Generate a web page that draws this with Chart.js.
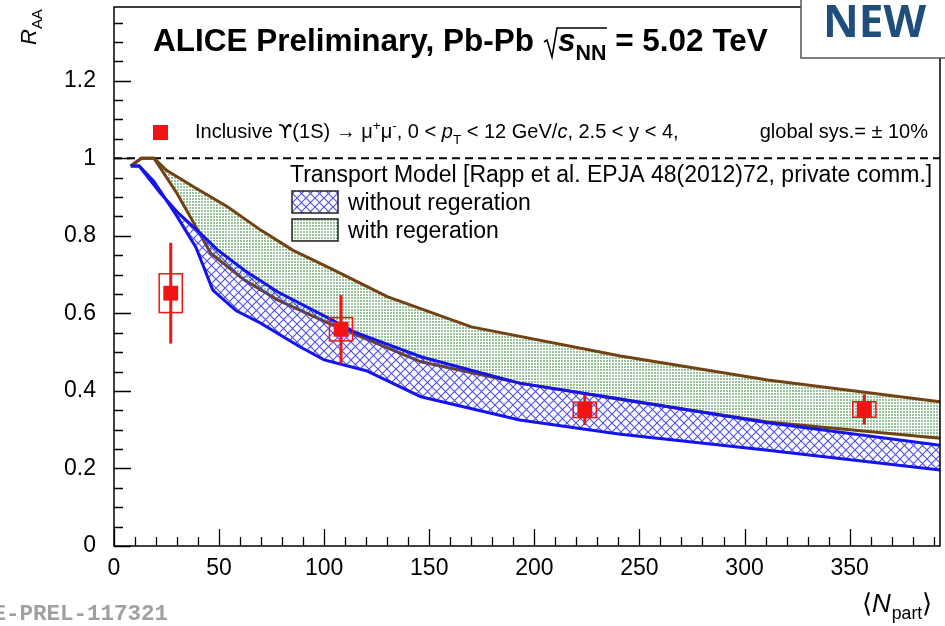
<!DOCTYPE html>
<html>
<head>
<meta charset="utf-8">
<script src="https://cdn.jsdelivr.net/npm/chart.js@4.4.1/dist/chart.umd.min.js"></script>
<style>
  html, body { margin: 0; padding: 0; background: #fff; }
  canvas { display: block; }
</style>
</head>
<body>
<canvas id="raaChart" width="945" height="626"></canvas>
<script>
// ALICE Upsilon(1S) points
const nPart = [27, 108, 224, 357];
const raa = [0.652, 0.559, 0.351, 0.352];
const statErr = [0.13, 0.088, 0.039, 0.039];
const sysErr = [0.05, 0.03, 0.02, 0.02];
const sysHalfWidth = 5.5;

// transport model, without regeneration (band edges)
const noRegUpperX = [8, 12, 22, 30, 41, 49, 62, 78, 103, 114, 146, 193, 241, 311, 393];
const noRegUpperY = [0.98, 0.98, 0.91, 0.862, 0.807, 0.765, 0.711, 0.655, 0.585, 0.553, 0.488, 0.42, 0.379, 0.318, 0.26];
const noRegLowerX = [8, 12, 19, 30, 39, 47, 58, 70, 88, 100, 120, 146, 193, 241, 311, 393];
const noRegLowerY = [0.98, 0.98, 0.94, 0.85, 0.77, 0.66, 0.607, 0.574, 0.515, 0.48, 0.452, 0.385, 0.325, 0.288, 0.247, 0.196];

// transport model, with regeneration
const regUpperX = [8, 13, 19, 25, 38, 54, 70, 85, 103, 130, 170, 241, 311, 393];
const regUpperY = [0.98, 1.0, 1.0, 0.969, 0.926, 0.875, 0.814, 0.763, 0.716, 0.643, 0.565, 0.49, 0.428, 0.372];
const regLowerX = [8, 13, 19, 30, 39, 46, 62, 78, 103, 146, 193, 241, 311, 393];
const regLowerY = [0.98, 1.0, 1.0, 0.909, 0.823, 0.755, 0.686, 0.634, 0.572, 0.475, 0.42, 0.378, 0.32, 0.278];

// axes
const xMin = 0, xMax = 393, xMajor = 50, xMinor = 10;
const yMin = 0, yMax = 1.39, yMajor = 0.2, yMinor = 0.05;

const BLUE = 'rgb(20,20,235)';
const BROWN = 'rgb(112,66,20)';
const RED = 'rgb(240,20,20)';
const FONT = '"Liberation Sans", Arial, Helvetica, sans-serif';

function toPoints(xs, ys) {
    return xs.map((x, i) => ({ x: x, y: ys[i] }));
}

// blue cross-hatch used for the "without regeneration" band
function makeHatch() {
    const c = document.createElement('canvas');
    c.width = 9; c.height = 9;
    const g = c.getContext('2d');
    g.strokeStyle = 'rgba(60,60,230,0.9)';
    g.lineWidth = 1.1;
    g.beginPath();
    g.moveTo(0, 0); g.lineTo(9, 9);
    g.moveTo(9, 0); g.lineTo(0, 9);
    g.stroke();
    return g.createPattern(c, 'repeat');
}

// green dotted fill used for the "with regeneration" band
function makeDots() {
    const c = document.createElement('canvas');
    c.width = 3; c.height = 3;
    const g = c.getContext('2d');
    g.fillStyle = 'rgba(90,160,90,0.62)';
    g.fillRect(0, 0, 2, 2);
    return g.createPattern(c, 'repeat');
}

const hatch = makeHatch();
const dots = makeDots();

// draws a run of text pieces (italic / sub / sup) starting at x, returns end x
function drawRuns(ctx, x, y, runs, size, weight) {
    weight = weight || 'normal';
    runs.forEach(r => {
        let s = size, dy = 0;
        if (r.sub) { s = size * 0.68; dy = size * 0.28; }
        if (r.sup) { s = size * 0.68; dy = -size * 0.38; }
        ctx.font = (r.i ? 'italic ' : '') + weight + ' ' + s + 'px ' + (r.family || FONT);
        ctx.fillText(r.t, x, y + dy);
        x += ctx.measureText(r.t).width + (r.gap || 0);
    });
    return x;
}

const decorations = {
    id: 'decorations',
    beforeDatasetsDraw(chart) {
        const { ctx, chartArea, scales } = chart;
        const y1 = scales.y.getPixelForValue(1);
        ctx.save();
        ctx.strokeStyle = '#000';
        ctx.lineWidth = 2;
        ctx.setLineDash([8, 5]);
        ctx.beginPath();
        ctx.moveTo(chartArea.left, y1);
        ctx.lineTo(chartArea.right, y1);
        ctx.stroke();
        ctx.restore();
    },
    afterDatasetsDraw(chart) {
        const { ctx, scales } = chart;
        const sx = scales.x, sy = scales.y;
        ctx.save();
        ctx.strokeStyle = RED;
        nPart.forEach((n, i) => {
            const px = sx.getPixelForValue(n);
            // statistical error bar
            ctx.lineWidth = 3;
            ctx.beginPath();
            ctx.moveTo(px, sy.getPixelForValue(raa[i] - statErr[i]));
            ctx.lineTo(px, sy.getPixelForValue(raa[i] + statErr[i]));
            ctx.stroke();
            // systematic box
            ctx.lineWidth = 1.5;
            const l = sx.getPixelForValue(n - sysHalfWidth);
            const r = sx.getPixelForValue(n + sysHalfWidth);
            const t = sy.getPixelForValue(raa[i] + sysErr[i]);
            const b = sy.getPixelForValue(raa[i] - sysErr[i]);
            ctx.strokeRect(l, t, r - l, b - t);
        });
        ctx.restore();
    },
    afterDraw(chart) {
        const { ctx, chartArea, scales } = chart;
        const sx = scales.x, sy = scales.y;
        const { left, right, top, bottom } = chartArea;
        ctx.save();

        // frame
        ctx.strokeStyle = '#000';
        ctx.lineWidth = 1.5;
        ctx.strokeRect(left, top, right - left, bottom - top);

        // inward ticks
        ctx.lineWidth = 1.3;
        ctx.beginPath();
        for (let v = yMin; v <= yMax + 1e-9; v += yMinor) {
            const major = Math.abs(v / yMajor - Math.round(v / yMajor)) < 1e-6;
            const py = Math.round(sy.getPixelForValue(v)) + 0.5;
            ctx.moveTo(left, py);
            ctx.lineTo(left + (major ? 17 : 9), py);
        }
        for (let v = xMin; v <= xMax; v += xMinor) {
            const major = v % xMajor === 0;
            const px = Math.round(sx.getPixelForValue(v)) + 0.5;
            ctx.moveTo(px, bottom);
            ctx.lineTo(px, bottom - (major ? 17 : 9));
        }
        ctx.stroke();

        ctx.fillStyle = '#000';
        ctx.textBaseline = 'alphabetic';
        ctx.textAlign = 'left';

        // title
        let x = drawRuns(ctx, 153, 51, [{ t: 'ALICE Preliminary, Pb-Pb' }], 31.5, 'bold');
        x += 10;
        ctx.lineWidth = 1.6;
        ctx.beginPath();
        ctx.moveTo(x, 42);
        ctx.lineTo(x + 3, 40);
        ctx.lineTo(x + 8, 57);
        ctx.lineTo(x + 13, 28);
        ctx.lineTo(x + 63, 28);
        ctx.stroke();
        drawRuns(ctx, x + 14, 51, [
            { t: 's', i: true }, { t: 'NN', sub: true }, { t: ' = 5.02 TeV' }
        ], 31.5, 'bold');

        // data legend line
        ctx.fillStyle = RED;
        ctx.fillRect(153, 125, 15, 15);
        ctx.fillStyle = '#000';
        drawRuns(ctx, 195, 138, [
            { t: 'Inclusive ' }, { t: '\u03D2', family: '"DejaVu Sans", sans-serif' }, { t: '(1S) \u2192 \u03BC' },
            { t: '+', sup: true }, { t: '\u03BC' }, { t: '-', sup: true },
            { t: ', 0 < ' }, { t: 'p', i: true }, { t: 'T', sub: true }, { t: ' < 12 GeV/' }, { t: 'c', i: true },
            { t: ', 2.5 < y < 4,' }
        ], 20);
        ctx.font = '20px ' + FONT;
        ctx.textAlign = 'right';
        ctx.fillText('global sys.= \u00B1 10%', 928, 138);
        ctx.textAlign = 'left';

        // model legend
        ctx.font = '23px ' + FONT;
        ctx.fillText('Transport Model [Rapp et al. EPJA 48(2012)72, private comm.]', 290, 182);
        [[hatch, 'without regeration', 191], [dots, 'with regeration', 219]].forEach(([pat, label, y]) => {
            ctx.fillStyle = '#fff';
            ctx.fillRect(292, y, 46, 22);
            ctx.fillStyle = pat;
            ctx.fillRect(292, y, 46, 22);
            ctx.strokeStyle = '#222';
            ctx.lineWidth = 1.5;
            ctx.strokeRect(292, y, 46, 22);
            ctx.fillStyle = '#000';
            ctx.font = '23px ' + FONT;
            ctx.fillText(label, 348, y + 19);
        });

        // y axis title
        ctx.save();
        ctx.translate(36, 45);
        ctx.rotate(-Math.PI / 2);
        drawRuns(ctx, 0, 0, [{ t: 'R', i: true }, { t: 'AA', sub: true }], 22);
        ctx.restore();

        // x axis title
        let xt = drawRuns(ctx, 862, 612, [{ t: '\u27E8' }, { t: 'N', i: true }], 26);
        xt = drawRuns(ctx, xt + 1, 612, [{ t: 'part', sub: true }], 26);
        drawRuns(ctx, xt, 612, [{ t: '\u27E9' }], 26);

        // preliminary figure id
        ctx.fillStyle = '#a0a0a0';
        ctx.font = 'bold 22.5px "Liberation Mono", "DejaVu Sans Mono", monospace';
        ctx.textAlign = 'right';
        ctx.fillText('ALICE-PREL-117321', 168, 620);

        // NEW badge
        ctx.textAlign = 'left';
        ctx.fillStyle = '#fff';
        ctx.fillRect(801, 0, 144, 58);
        ctx.strokeStyle = '#555';
        ctx.lineWidth = 1.5;
        ctx.beginPath();
        ctx.moveTo(801, 0);
        ctx.lineTo(801, 58);
        ctx.lineTo(945, 58);
        ctx.stroke();
        ctx.fillStyle = 'rgb(31,78,125)';
        ctx.font = 'bold 44px "Open Sans", Lato, sans-serif';
        ctx.fillText('NEW', 823, 37);

        ctx.restore();
    }
};

new Chart(document.getElementById('raaChart'), {
    type: 'line',
    data: {
        datasets: [
            {
                label: 'ALICE',
                data: toPoints(nPart, raa),
                showLine: false,
                pointStyle: 'rect',
                pointRadius: 10.5,
                pointBackgroundColor: RED,
                pointBorderWidth: 0
            },
            {
                label: 'no regeneration upper',
                data: toPoints(noRegUpperX, noRegUpperY),
                borderColor: BLUE,
                borderWidth: 3,
                pointRadius: 0,
                fill: false
            },
            {
                label: 'no regeneration lower',
                data: toPoints(noRegLowerX, noRegLowerY),
                borderColor: BLUE,
                borderWidth: 3,
                pointRadius: 0,
                backgroundColor: hatch,
                fill: '-1'
            },
            {
                label: 'regeneration upper',
                data: toPoints(regUpperX, regUpperY),
                borderColor: BROWN,
                borderWidth: 3,
                pointRadius: 0,
                fill: false
            },
            {
                label: 'regeneration lower',
                data: toPoints(regLowerX, regLowerY),
                borderColor: BROWN,
                borderWidth: 3,
                pointRadius: 0,
                backgroundColor: dots,
                fill: '-1'
            }
        ]
    },
    options: {
        responsive: false,
        animation: false,
        layout: { autoPadding: false, padding: { top: 7, right: 5, left: 0, bottom: 0 } },
        plugins: {
            legend: { display: false },
            tooltip: { enabled: false }
        },
        elements: { line: { tension: 0 } },
        scales: {
            x: {
                type: 'linear',
                min: xMin,
                max: xMax,
                grid: { display: false },
                border: { display: false },
                ticks: {
                    stepSize: xMajor,
                    autoSkip: false,
                    maxRotation: 0,
                    padding: 1,
                    color: '#000',
                    font: { family: FONT, size: 23 },
                    callback: v => (v % xMajor === 0 ? String(v) : '')
                },
                afterFit: s => {
                    s.height = 80;
                    s.paddingLeft = 0;
                    s.paddingRight = 0;
                }
            },
            y: {
                min: yMin,
                max: yMax,
                grid: { display: false },
                border: { display: false },
                ticks: {
                    stepSize: yMajor,
                    autoSkip: false,
                    padding: 10,
                    color: '#000',
                    font: { family: FONT, size: 23 },
                    callback: v => {
                        const k = v / yMajor;
                        return Math.abs(k - Math.round(k)) < 1e-6 && v < 1.25 ? String(+v.toFixed(1)) : '';
                    }
                },
                afterFit: s => {
                    s.width = 114;
                    s.paddingTop = 0;
                    s.paddingBottom = 0;
                }
            }
        }
    },
    plugins: [decorations]
});
</script>
</body>
</html>
